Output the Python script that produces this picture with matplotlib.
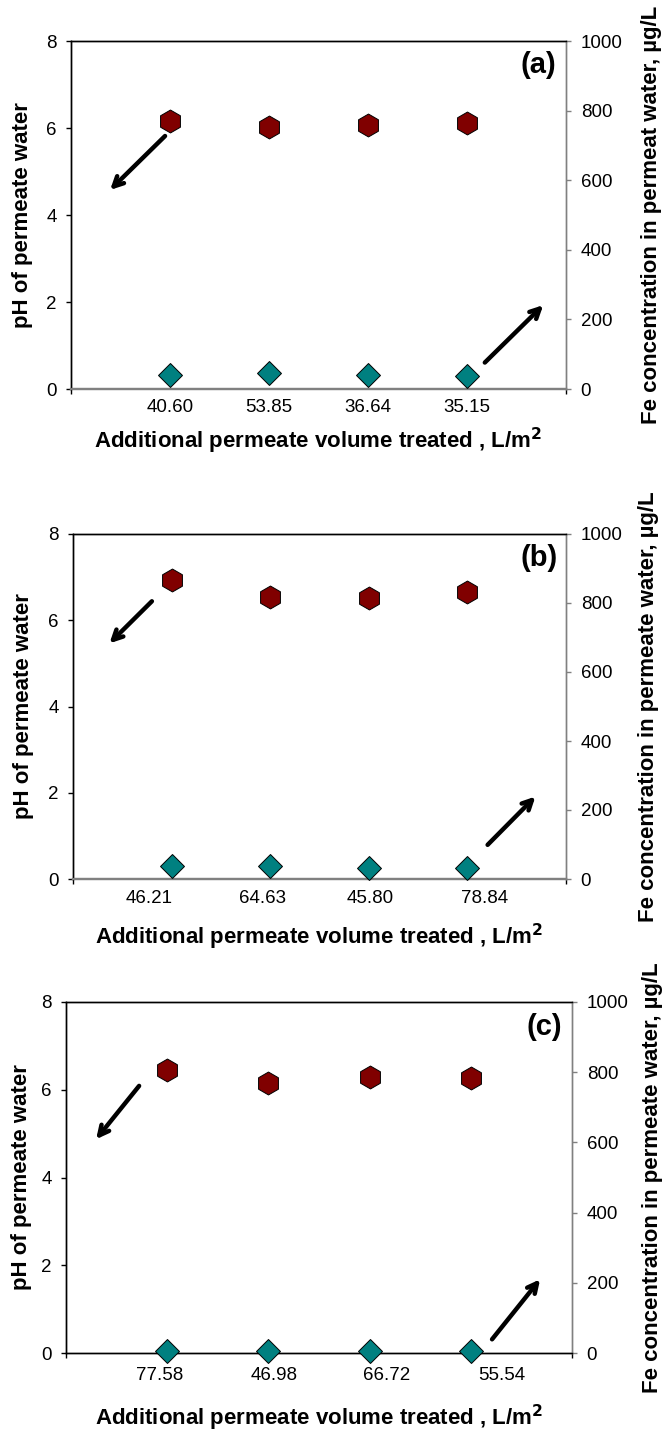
import matplotlib
matplotlib.use("Agg")
import matplotlib.pyplot as plt

plt.rcParams["font.family"] = ["Liberation Sans", "DejaVu Sans"]

# Additional permeate volume treated (L/m2) for each run, shown as category labels
volumes_a = ["40.60", "53.85", "36.64", "35.15"]
volumes_b = ["46.21", "64.63", "45.80", "78.84"]
volumes_c = ["77.58", "46.98", "66.72", "55.54"]

# pH of permeate water
ph_a = [6.17, 6.02, 6.07, 6.12]
ph_b = [6.93, 6.53, 6.52, 6.66]
ph_c = [6.45, 6.16, 6.29, 6.27]

# Fe concentration in permeate water (ug/L)
fe_a = [41, 45, 39, 37]
fe_b = [37, 38, 32, 31]
fe_c = [7, 7, 7, 7]

panel_tags = ["(a)", "(b)", "(c)"]
right_labels = [
    "Fe concentration in permeat water, µg/L",
    "Fe concentration in permeate water, µg/L",
    "Fe concentration in permeate water, µg/L",
]

W, H = 664, 1435
fig = plt.figure(figsize=(W / 100, H / 100), dpi=100)


def frac_rect(left, top, right, bottom):
    return [left / W, 1 - bottom / H, (right - left) / W, (bottom - top) / H]


# layout of each panel: axes box (px), tick-label slots, arrows, label offsets
layouts = [
    dict(box=(71, 41, 566, 389), slots=[1.0, 2.0, 3.0, 4.0], xpad=7.0,
         down=((0.19, 0.727), (0.079, 0.572)), up=((0.836, 0.076), (0.954, 0.241)),
         xlab_y=-0.149, ylab_x=-0.097, rlab_x=1.172, zero_color="#808080"),
    dict(box=(73, 534, 566, 879), slots=[0.77, 1.92, 3.01, 4.17], xpad=8.0,
         down=((0.16, 0.805), (0.074, 0.683)), up=((0.841, 0.099), (0.938, 0.239)),
         xlab_y=-0.168, ylab_x=-0.101, rlab_x=1.168, zero_color="#808080"),
    dict(box=(66, 1002, 572, 1353), slots=[0.93, 2.06, 3.17, 4.31], xpad=10.0,
         down=((0.1445, 0.761), (0.0595, 0.609)), up=((0.842, 0.039), (0.937, 0.21)),
         xlab_y=-0.185, ylab_x=-0.087, rlab_x=1.16, zero_color="black"),
]

datasets = [
    (volumes_a, ph_a, fe_a),
    (volumes_b, ph_b, fe_b),
    (volumes_c, ph_c, fe_c),
]

for (vols, ph, fe), lay, tag, rlab in zip(datasets, layouts, panel_tags, right_labels):
    ax = fig.add_axes(frac_rect(*lay["box"]))
    ax2 = ax.twinx()

    xs = list(range(1, len(vols) + 1))
    ax.set_xlim(0, len(vols) + 1)
    ax.set_ylim(0, 8)
    ax2.set_ylim(0, 1000)

    ax.set_yticks([0, 2, 4, 6, 8])
    ax2.set_yticks([0, 200, 400, 600, 800, 1000])

    # end ticks only on the category axis; labels sit on separate slots
    ax.set_xticks([0, len(vols) + 1])
    ax.set_xticklabels(["", ""])
    ax.set_xticks(lay["slots"], vols, minor=True)
    ax.tick_params(axis="x", which="minor", length=0, pad=lay["xpad"], labelsize=13.5)
    ax.tick_params(axis="x", which="major", direction="out", length=3.6, width=1)
    ax.tick_params(axis="y", direction="out", length=3.6, width=1, pad=6.5, labelsize=13.5)
    ax2.tick_params(axis="y", direction="out", length=3.6, width=1, pad=7, labelsize=13.5,
                    color="#808080")

    for a in (ax, ax2):
        a.spines["left"].set_color("black")
        a.spines["top"].set_color("black")
        a.spines["right"].set_color("#808080")
        a.spines["bottom"].set_color(lay["zero_color"])
        a.spines["bottom"].set_linewidth(1.6 if lay["zero_color"] != "black" else 1.0)
        a.spines["left"].set_linewidth(1.0)
        a.spines["top"].set_linewidth(1.0)
        a.spines["right"].set_linewidth(1.0)

    ax2.plot(xs, fe, linestyle="none", marker="D", markersize=12.5,
             markerfacecolor="#008080", markeredgecolor="black", markeredgewidth=0.7,
             clip_on=False, zorder=5)
    ax2.plot(xs, ph, linestyle="none", marker="h", markersize=16.5,
             markerfacecolor="#800000", markeredgecolor="black", markeredgewidth=0.7,
             clip_on=False, zorder=5, transform=ax.transData)

    arrow = dict(arrowstyle="->,head_length=0.7,head_width=0.35", lw=3.2, color="black",
                 shrinkA=0, shrinkB=0)
    ax2.annotate("", xy=lay["down"][1], xytext=lay["down"][0],
                 xycoords="axes fraction", textcoords="axes fraction", arrowprops=arrow)
    ax2.annotate("", xy=lay["up"][1], xytext=lay["up"][0],
                 xycoords="axes fraction", textcoords="axes fraction", arrowprops=arrow)

    ax2.text(0.945, 0.93, tag, transform=ax2.transAxes, ha="center", va="center",
             fontsize=21, fontweight="bold")

    ax.set_xlabel("Additional permeate volume treated , L/m$^{\\mathbf{2}}$",
                  fontsize=16, fontweight="bold")
    ax.xaxis.set_label_coords(0.5, lay["xlab_y"])
    ax.xaxis.label.set_verticalalignment("center")

    ax.set_ylabel("pH of permeate water", fontsize=16, fontweight="bold")
    ax.yaxis.set_label_coords(lay["ylab_x"], 0.5)
    ax.yaxis.label.set_verticalalignment("center")

    ax2.set_ylabel(rlab, fontsize=16, fontweight="bold")
    ax2.yaxis.set_label_coords(lay["rlab_x"], 0.5)
    ax2.yaxis.label.set_verticalalignment("center")

fig.savefig("out.png", dpi=100)
